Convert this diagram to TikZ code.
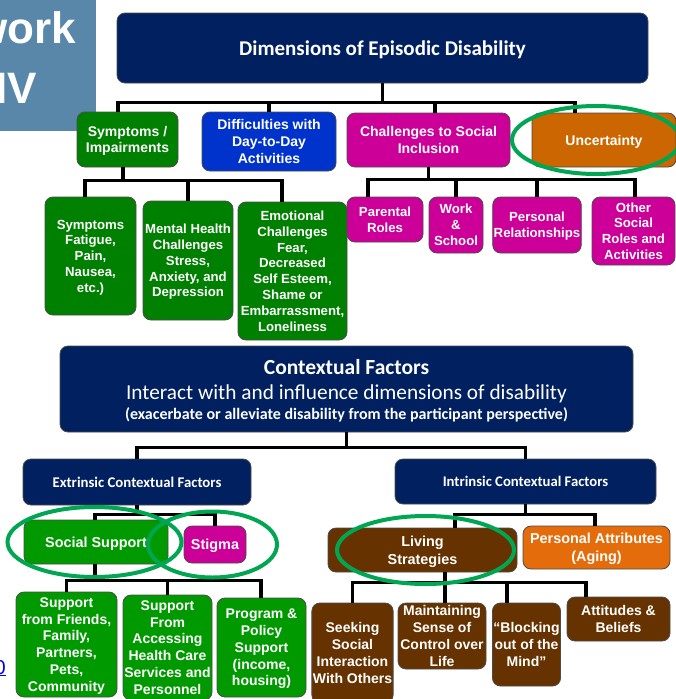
\documentclass[tikz,border=0pt]{standalone}
\usepackage{fontspec}
\setmainfont{Liberation Sans}
\newfontfamily\calfont{Carlito}
\usepackage{tikz}
\usetikzlibrary{positioning}

\definecolor{navy}{RGB}{0,32,96}
\definecolor{dkgreen}{RGB}{0,128,0}
\definecolor{ltgreen}{RGB}{0,153,0}
\definecolor{royal}{RGB}{0,51,204}
\definecolor{magen}{RGB}{204,0,153}
\definecolor{rust}{RGB}{204,102,0}
\definecolor{amber}{RGB}{228,108,10}
\definecolor{soil}{RGB}{102,51,0}
\definecolor{ringgreen}{RGB}{0,166,81}
\definecolor{steel}{RGB}{88,135,170}
\definecolor{linkblue}{RGB}{0,0,230}

\tikzstyle{box} = [draw=black!70, line width=0.8pt, rounded corners=8pt, text=white, align=center, inner sep=1pt, text depth=0pt]
\tikzstyle{head} = [box, fill=navy, font=\calfont\bfseries\fontsize{21}{25}\selectfont]
\tikzstyle{big} = [font=\bfseries\fontsize{14}{16.8}\selectfont]
\tikzstyle{mid} = [font=\bfseries\fontsize{14.4}{18}\selectfont]
\tikzstyle{small} = [font=\bfseries\fontsize{13.2}{15.8}\selectfont]
\tikzstyle{conn} = [line width=3.5pt]
\tikzstyle{ring} = [draw=ringgreen, line width=4pt]
\tikzset{sz/.style 2 args={minimum width=#1, minimum height=#2}}

\begin{document}
\begin{tikzpicture}[x=1pt, y=-1pt]
\useasboundingbox (0,0) rectangle (675,699);

% title panel in the corner
\fill[steel] (0,0) rectangle (96,131);
\node[anchor=base east, text=white, inner sep=0, font=\bfseries\fontsize{44}{44}\selectfont] (frame) at (76,43) {work};
\node[anchor=base east, text=white, inner sep=0, font=\bfseries\fontsize{44}{44}\selectfont] (hiv) at (37,103) {IV};
\node[anchor=base east, text=linkblue, inner sep=0, font=\fontsize{20}{20}\selectfont] (lnk) at (6,674) {\underline{0}};

% dimensions of disability
\node[head, sz={531}{70}] (dims) at (382.5,48) {Dimensions of Episodic Disability};
\node[box, big, fill=dkgreen, sz={101}{55}] (symp) at (127.5,139.5) {Symptoms /\\Impairments};
\node[box, big, fill=royal, sz={134}{59}] (diff) at (269,141.5) {Difficulties with\\Day-to-Day\\Activities};
\node[box, big, fill=magen, sz={163}{54}] (chal) at (428.5,140) {Challenges to Social\\Inclusion};
\node[box, big, fill=rust, sz={144}{54}] (unc) at (604,140) {Uncertainty};

\node[box, small, fill=dkgreen, sz={91}{118}] (fatig) at (90.5,256) {Symptoms\\Fatigue,\\Pain,\\Nausea,\\etc.)};
\node[box, small, fill=dkgreen, sz={90}{119}] (ment) at (188,260.5) {Mental Health\\Challenges\\Stress,\\Anxiety, and\\Depression};
\node[box, small, fill=dkgreen, sz={109}{138}] (emot) at (292.5,271) {Emotional\\Challenges\\Fear,\\Decreased\\Self Esteem,\\Shame or\\Embarrassment,\\Loneliness};

\node[box, small, fill=magen, sz={76}{45}] (parent) at (385,219.5) {Parental\\Roles};
\node[box, small, fill=magen, sz={54}{56}] (school) at (456,225) {Work\\\&\\School};
\node[box, small, fill=magen, sz={86}{56}] (relat) at (537,225) {Personal\\Relationships};
\node[box, small, fill=magen, sz={83}{68}] (other) at (633.5,231) {Other\\Social\\Roles and\\Activities};

% contextual factors
\node[box, fill=navy, sz={573}{86}, font=\calfont\fontsize{21.3}{25}\selectfont] (ctx) at (346.5,389)
  {{\bfseries\fontsize{21.5}{25}\selectfont Contextual Factors}\\
   Interact with and influence dimensions of disability\\[-5pt]
   {\bfseries\fontsize{16}{19}\selectfont (exacerbate or alleviate disability from the participant perspective)}};
\node[head, sz={228}{46}, font=\calfont\bfseries\fontsize{14.8}{18}\selectfont] (extr) at (137,482) {Extrinsic Contextual Factors};
\node[head, sz={261}{45}, font=\calfont\bfseries\fontsize{14.7}{18}\selectfont] (intr) at (525.5,481.5) {Intrinsic Contextual Factors};

\node[box, mid, fill=ltgreen, sz={144}{44}] (social) at (96,542) {Social Support};
\node[box, mid, fill=magen, sz={62}{37}] (stigma) at (215,544.5) {Stigma};
\node[box, big, fill=ltgreen, sz={101}{105}] (friends) at (66.5,644.5) {Support\\from Friends,\\Family,\\Partners,\\Pets,\\Community};
\node[box, big, fill=ltgreen, sz={89}{105}] (care) at (167.5,647.5) {Support\\From\\Accessing\\Health Care\\Services and\\Personnel};
\node[box, big, fill=ltgreen, sz={89}{99}] (policy) at (261.5,647.5) {Program \&\\Policy\\Support\\(income,\\housing)};

\node[box, mid, fill=soil, sz={189}{44}] (living) at (422.5,550) {Living\\Strategies};
\node[box, mid, fill=amber, sz={147}{43}] (attrib) at (596.5,547.5) {Personal Attributes\\(Aging)};
\node[box, big, fill=soil, sz={81}{100}] (seek) at (352.5,653) {Seeking\\Social\\Interaction\\With Others};
\node[box, big, fill=soil, sz={88}{66}] (control) at (442,636) {Maintaining\\Sense of\\Control over\\Life};
\node[box, big, fill=soil, sz={67}{83}] (block) at (526.5,644.5) {“Blocking\\out of the\\Mind”};
\node[box, big, fill=soil, sz={103}{44}] (belief) at (618.5,619) {Attitudes \&\\Beliefs};

% tree lines
\draw[conn] (dims.south) -- ++(0,19) coordinate (b1);
\draw[conn] ([xshift=-9.5]symp.north) |- (b1) -| ([xshift=-29]unc.north);
\draw[conn] (diff.north) -- (diff.north |- b1);
\draw[conn] ([xshift=6.5]chal.north) -- ([xshift=6.5]chal.north |- b1);

\draw[conn] ([xshift=-4.5]symp.south) -- ++(0,13) coordinate (b2);
\draw[conn] ([xshift=-5.5]fatig.north) |- (b2) -| ([xshift=-10.5]emot.north);
\draw[conn] (ment.north) -- (ment.north |- b2);

\draw[conn] (chal.south) -- ++(0,12) coordinate (b3);
\draw[conn] ([xshift=-17]parent.north) |- (b3) -| ([xshift=1.5]other.north);
\draw[conn] (school.north) -- (school.north |- b3);
\draw[conn] (relat.north) -- (relat.north |- b3);

\draw[conn] (ctx.south) -- ++(0,15) coordinate (b4);
\draw[conn] (extr.north) |- (b4) -| (intr.north);

\draw[conn] (extr.south) -- ++(0,9) coordinate (b5);
\draw[conn] ([xshift=-1]social.north) |- (b5) -| (stigma.north);
\draw[conn] ([xshift=-1]social.south) -- ++(0,16) coordinate (b6);
\draw[conn] (friends.north) |- (b6) -| ([xshift=-0.5]policy.north);
\draw[conn] (care.north) -- (care.north |- b6);

\draw[conn] (intr.south) -- ++(0,10) coordinate (b7);
\draw[conn] ([xshift=32.5]living.north) |- (b7) -| ([xshift=-1.5]attrib.north);
\draw[conn] ([xshift=22.5]living.south) -- ++(0,10) coordinate (b8);
\draw[conn] (seek.north) |- (b8) -| ([xshift=-32.5]belief.north);
\draw[conn] (b8) -- (b8 |- control.north);
\draw[conn] ([xshift=-19.5]block.north) -- ([xshift=-19.5]block.north |- b8);

% highlight rings
\draw[ring] ([xshift=-8]unc.center) ellipse [x radius=84, y radius=34];
\draw[ring] ([xshift=-1.5]social.center) ellipse [x radius=87, y radius=35];
\draw[ring] ([xshift=-2.5]stigma.center) ellipse [x radius=64.5, y radius=33];
\draw[ring] ([xshift=3]living.center) ellipse [x radius=88.5, y radius=34];
\end{tikzpicture}
\end{document}
